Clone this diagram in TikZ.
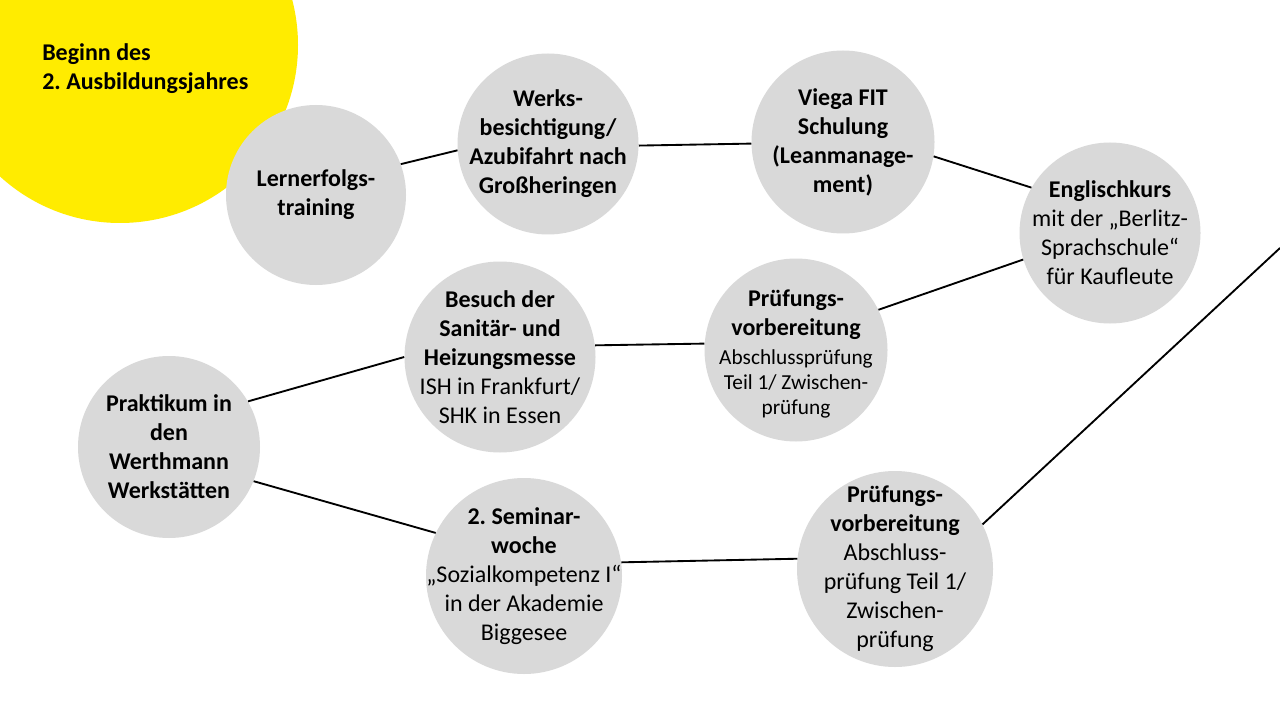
\documentclass[tikz,border=0pt]{standalone}
\usepackage{fontspec}
\setmainfont{Carlito}
\definecolor{vyellow}{HTML}{FFEC00}
\definecolor{cgray}{HTML}{D9D9D9}
\newcommand{\smf}{\fontsize{16}{19}\selectfont}
\frenchspacing
\begin{document}
\frenchspacing
\begin{tikzpicture}[x=0.75pt,y=-0.75pt,
  bub/.style={circle,fill=cgray,draw=none,inner sep=0pt,minimum size={#1*1.5pt}},
  txt/.style={align=center,font=\fontsize{18}{21.75}\selectfont\frenchspacing,inner sep=0pt,text=black},
  btxt/.style={txt,font=\fontsize{18}{21.75}\selectfont\bfseries\frenchspacing},
  link/.style={draw=black,line width=1.4pt}]
\useasboundingbox (0,0) rectangle (1280,720);
\fill[white] (0,0) rectangle (1280,720);
\begin{scope}
\clip (0,0) rectangle (1280,720);
\node[circle,fill=vyellow,draw=none,inner sep=0pt,minimum size={356*0.75pt}] (start) at (120,45) {};
\end{scope}
\node[btxt,align=left,anchor=west] (tstart) at (42,68.5) {Beginn des\\2. Ausbildungsjahres};

% circles
\node[bub=90]   (c1) at (316,195) {};
\node[bub=90.5] (c2) at (548,144) {};
\node[bub=91.5] (c3) at (843,142) {};
\node[bub=90.5] (c4) at (1110,233) {};
\node[bub=91.5] (c5) at (796,350) {};
\node[bub=95.5] (c6) at (500,357) {};
\node[bub=91]   (c7) at (169,447) {};
\node[bub=98]   (c8) at (524,576) {};
\node[bub=98]   (c9) at (895,569) {};

% texts
\node[btxt] (t1) at (c1) {Lernerfolgs-\\training};
\node[btxt] (t2) at (c2) {Werks-\\besichtigung/\\Azubifahrt nach\\Großheringen};
\node[btxt] (t3) at (c3) {Viega FIT\\Schulung\\(Leanmanage-\\ment)};
\node[txt]  (t4) at (c4) {\textbf{Englischkurs}\\mit der „Berlitz-\\Sprachschule“\\für Kaufleute};
\node[txt]  (t5) at ([yshift=-3pt]c5) {\textbf{Prüfungs-}\\\textbf{vorbereitung}\\\smf Abschlussprüfung\\[-3pt]\smf Teil 1/ Zwischen-\\[-3pt]\smf prüfung};
\node[txt]  (t6) at (c6) {\textbf{Besuch der}\\\textbf{Sanitär- und}\\\textbf{Heizungsmesse}\\ISH in Frankfurt/\\SHK in Essen};
\node[btxt] (t7) at (c7) {Praktikum in\\den\\Werthmann\\Werkstätten};
\node[txt]  (t8) at (c8) {\textbf{2. Seminar-}\\\textbf{woche}\\„Sozialkompetenz I“\\in der Akademie\\Biggesee};
\node[txt]  (t9) at (c9) {\textbf{Prüfungs-}\\\textbf{vorbereitung}\\Abschluss-\\prüfung Teil 1/\\Zwischen-\\prüfung};

% connectors
\coordinate (exit) at (1280,248);
\draw[link] (c1.20) -- (c2.184.4);
\draw[link] (c2.-1.2) -- (c3.181.3);
\draw[link] (c3.-9.3) -- (c4.150);
\draw[link] (c4.197) -- (c5.26.6);
\draw[link] (c5.176.9) -- (c6.7.2);
\draw[link] (c6.180) -- (c7.30.9);
\draw[link] (c7.-22.6) -- (c8.154.2);
\draw[link] (c8.8.7) -- (c9.174.9);
\draw[link] (c9.27.8) -- (exit);
\end{tikzpicture}
\end{document}
